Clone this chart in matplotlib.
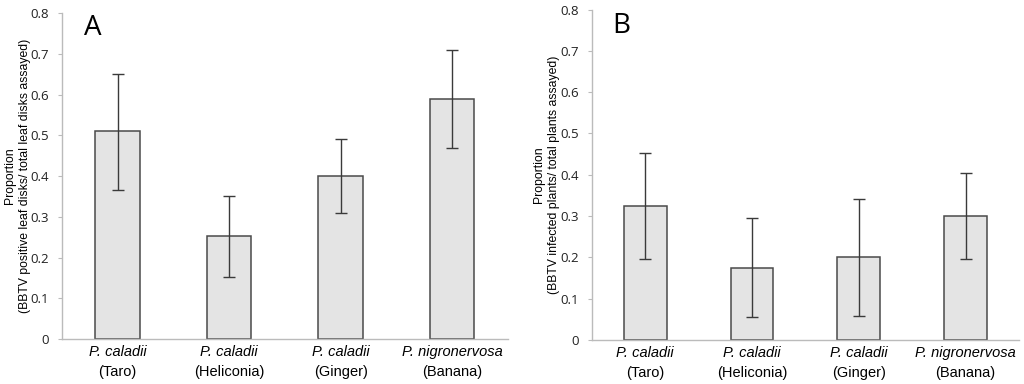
import numpy as np
import matplotlib
matplotlib.use("Agg")
import matplotlib.pyplot as plt

# data
categories = ["P. caladii", "P. caladii", "P. caladii", "P. nigronervosa"]
hosts = ["(Taro)", "(Heliconia)", "(Ginger)", "(Banana)"]

a_values = [0.51, 0.252, 0.40, 0.59]
a_lower = [0.367, 0.153, 0.31, 0.468]
a_upper = [0.65, 0.35, 0.49, 0.71]

b_values = [0.325, 0.175, 0.20, 0.30]
b_lower = [0.197, 0.056, 0.058, 0.195]
b_upper = [0.452, 0.294, 0.342, 0.405]

y_ticks = [0, 0.1, 0.2, 0.3, 0.4, 0.5, 0.6, 0.7, 0.8]

a_ylabel = ["Proportion", "(BBTV positive leaf disks/ total leaf disks assayed)"]
b_ylabel = ["Proportion", "(BBTV infected plants/ total plants assayed)"]

fig = plt.figure(figsize=(10.24, 3.84), dpi=100)
axA = fig.add_axes([0.0605, 0.117, 0.4355, 0.849])
axB = fig.add_axes([0.578, 0.115, 0.417, 0.860])


def draw_panel(ax, vals, lo, hi, ylabel, label_x, letter, letter_pos):
    x = np.arange(len(vals))
    vals = np.array(vals)
    yerr = [vals - np.array(lo), np.array(hi) - vals]
    ax.bar(x, vals, width=0.4, color="#e4e4e4", edgecolor="#4a4a4a", linewidth=1.1, zorder=2)
    ax.errorbar(x, vals, yerr=yerr, fmt="none", ecolor="#3a3a3a", elinewidth=1.0,
                capsize=4, capthick=1.0, zorder=3)
    ax.set_xlim(-0.5, len(vals) - 0.5)
    ax.set_ylim(0, 0.8)
    ax.set_yticks(y_ticks)
    ax.set_yticklabels([("%g" % t) for t in y_ticks], fontfamily="Open Sans", fontsize=9.5,
                       color="#222222")
    ax.set_xticks(x)
    ax.set_xticklabels([""] * len(x))
    for i in x:
        ax.text(i, -0.015, categories[i], ha="center", va="top", fontsize=10.5,
                style="italic", family="Liberation Sans")
        ax.text(i, -0.063, hosts[i], ha="center", va="top", fontsize=10.5,
                family="Liberation Sans")
    ax.tick_params(axis="x", length=0)
    ax.tick_params(axis="y", length=3, color="#bbbbbb", width=0.8, pad=6.5)
    for s in ["top", "right"]:
        ax.spines[s].set_visible(False)
    for s in ["left", "bottom"]:
        ax.spines[s].set_color("#bbbbbb")
        ax.spines[s].set_linewidth(1.0)
    pos = ax.get_position()
    yc = (pos.y0 + pos.y1) / 2
    fig.text(label_x[0], yc, ylabel[0], rotation=90, ha="center", va="center",
             fontsize=8.8, family="Liberation Sans")
    fig.text(label_x[1], yc, ylabel[1], rotation=90, ha="center", va="center",
             fontsize=8.8, family="Liberation Sans")
    ax.text(letter_pos[0], letter_pos[1], letter, transform=ax.transAxes, fontsize=20,
            ha="left", va="baseline", family="Open Sans")


draw_panel(axA, a_values, a_lower, a_upper, a_ylabel, [10 / 1024, 25 / 1024], "A", (0.05, 0.933))
draw_panel(axB, b_values, b_lower, b_upper, b_ylabel, [539 / 1024, 554 / 1024], "B", (0.047, 0.929))

fig.savefig("out.png", dpi=100)
